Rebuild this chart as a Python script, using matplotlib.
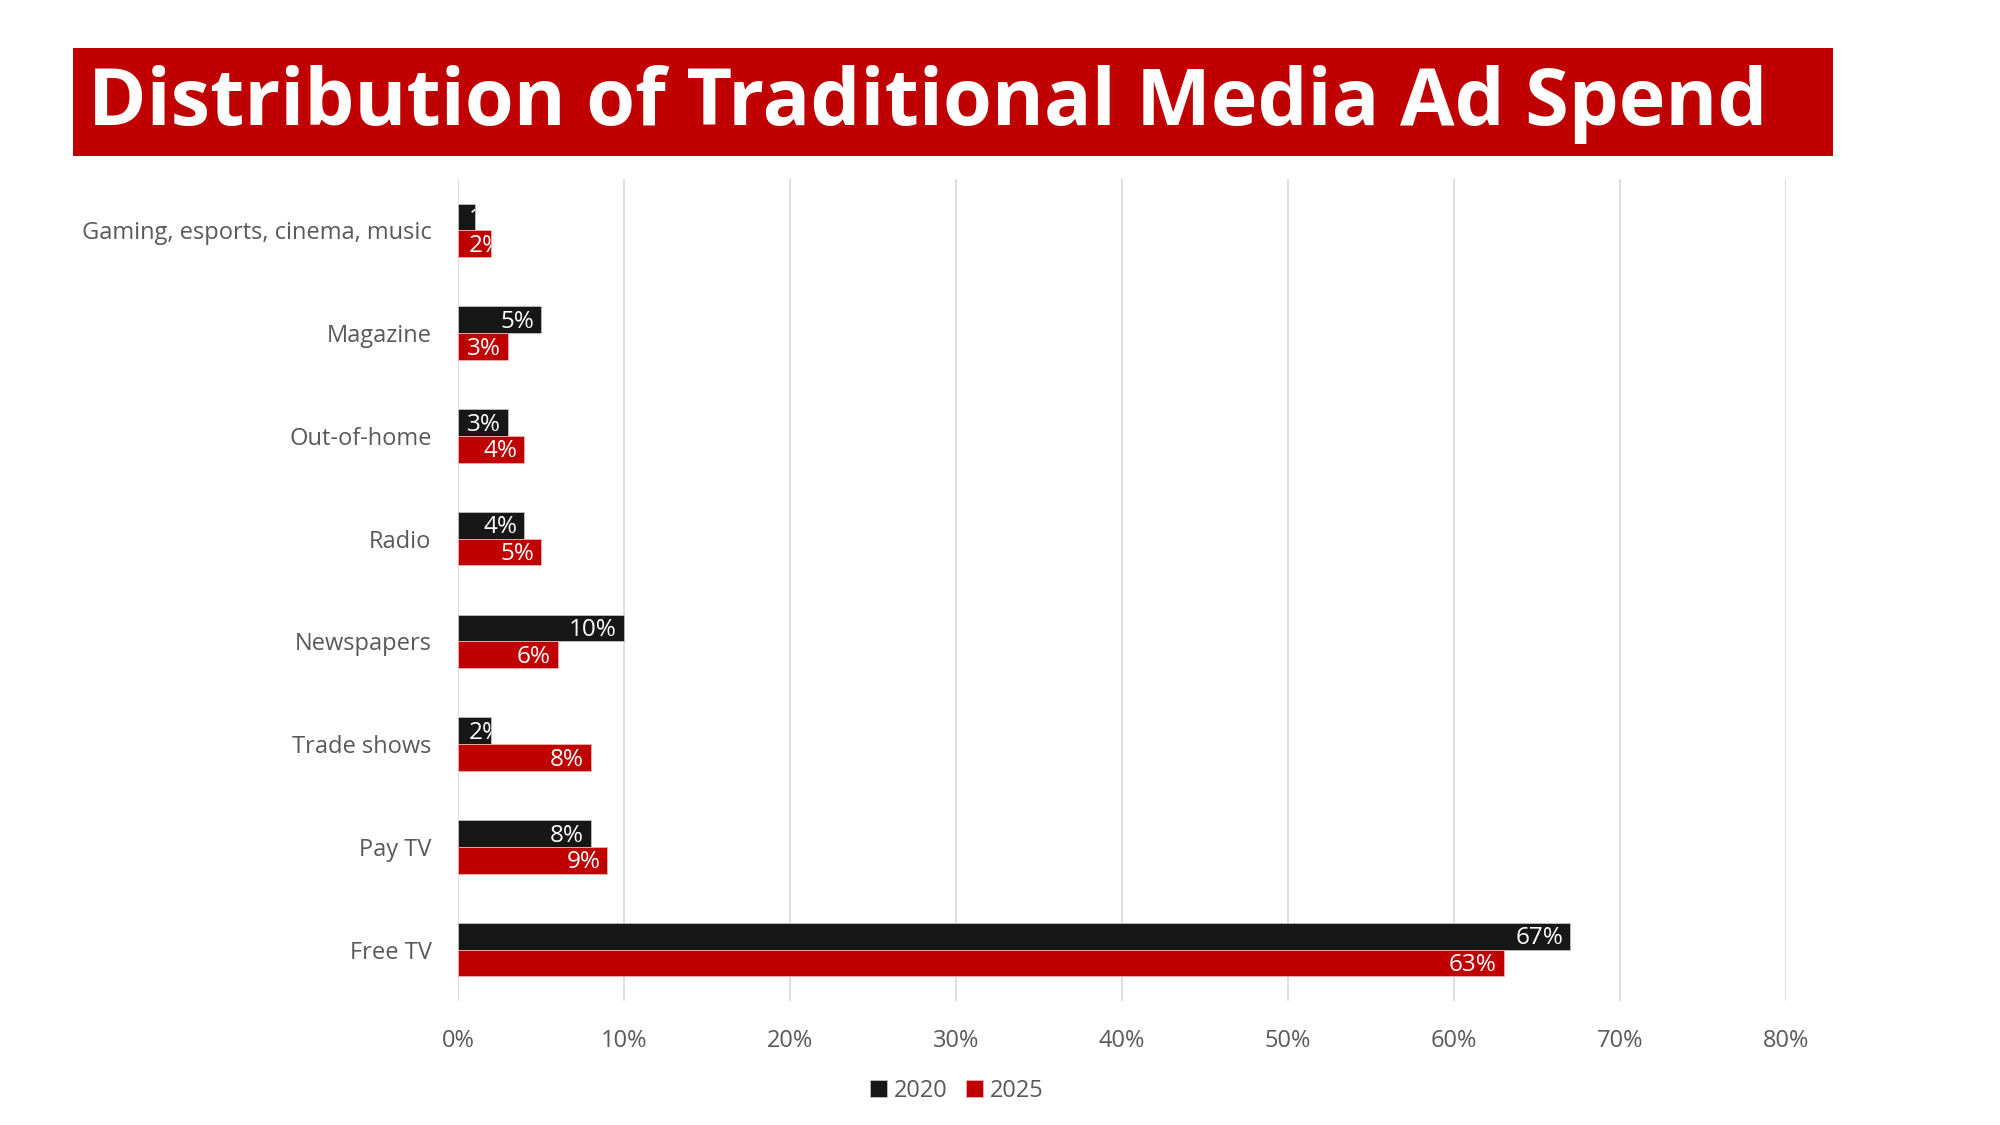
import matplotlib
matplotlib.use("Agg")
import matplotlib.pyplot as plt
import numpy as np
from matplotlib.patches import Rectangle

categories = ["Gaming, esports, cinema, music", "Magazine", "Out-of-home", "Radio",
              "Newspapers", "Trade shows", "Pay TV", "Free TV"]
share_2020 = [1, 5, 3, 4, 10, 2, 8, 67]
share_2025 = [2, 3, 4, 5, 6, 8, 9, 63]
xticks = [0, 10, 20, 30, 40, 50, 60, 70, 80]

BLACK = "#171717"
RED = "#C00000"
GREY = "#595959"

plt.rcParams["font.family"] = ["Open Sans", "DejaVu Sans"]

fig = plt.figure(figsize=(20, 11.25), dpi=100)

# title banner
fig.patches.append(Rectangle((73 / 2000, 1 - 156 / 1125), (1833 - 73) / 2000, 108 / 1125,
                             transform=fig.transFigure, facecolor=RED, edgecolor="none"))
fig.text(88 / 2000, 1 - 105 / 1125, "Distribution of Traditional Media Ad Spend",
         color="white", fontsize=57, fontweight="bold", va="center", ha="left")

ax = fig.add_axes([458 / 2000, 1 - 1001 / 1125, (1786 - 458) / 2000, (1001 - 179) / 1125])

y = np.arange(len(categories))
h = 0.26
bars_a = ax.barh(y - h / 2, share_2020, height=h, color=BLACK, edgecolor="#bfbfbf",
                 linewidth=0.6, label="2020", zorder=3)
bars_b = ax.barh(y + h / 2, share_2025, height=h, color=RED, edgecolor="#f0b0b0",
                 linewidth=0.6, label="2025", zorder=3)

ax.set_xlim(0, 80)
ax.set_ylim(len(categories) - 0.5, -0.5)

fig.canvas.draw()
renderer = fig.canvas.get_renderer()
for bars, vals in ((bars_a, share_2020), (bars_b, share_2025)):
    for bar, v in zip(bars, vals):
        yc = bar.get_y() + bar.get_height() / 2
        t = ax.annotate(f"{v}%", (bar.get_width(), yc), xytext=(-5, -1.5),
                        textcoords="offset points", ha="right", va="center",
                        color="white", fontsize=17.5, zorder=4)
        tw = t.get_window_extent(renderer).width
        bw = bar.get_window_extent(renderer).width
        if tw + 8 > bw:
            # label wider than the bar: start it near the base, clipped by the bar
            t.xy = (0, yc)
            t.set_position((8, -1.5))
            t.set_ha("left")
        t.set_clip_path(bar)

ax.set_xticks(xticks)
ax.set_xticklabels([f"{t}%" for t in xticks])
ax.set_yticks(y)
ax.set_yticklabels(categories)
ax.tick_params(axis="both", length=0, labelsize=17, labelcolor=GREY)
ax.tick_params(axis="x", pad=20)
ax.tick_params(axis="y", pad=19)
ax.grid(axis="x", color="#d9d9d9", linewidth=1.2, zorder=0)
for s in ax.spines.values():
    s.set_visible(False)

fig.legend(handles=[bars_a, bars_b], labels=["2020", "2025"], loc="center",
           bbox_to_anchor=(957 / 2000, 1 - 1091 / 1125), ncol=2, frameon=False,
           fontsize=17, labelcolor=GREY, handlelength=0.7, handleheight=0.7,
           handletextpad=0.3, columnspacing=0.8)

fig.savefig("out.png", dpi=100)
